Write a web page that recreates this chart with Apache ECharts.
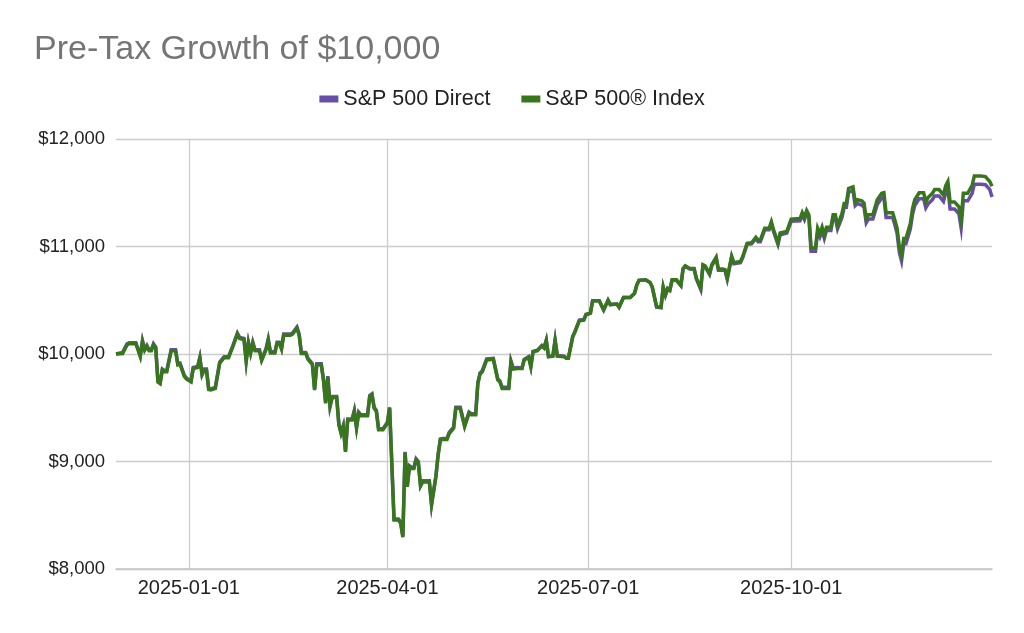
<!DOCTYPE html>
<html>
<head>
<meta charset="utf-8">
<script src="https://cdn.jsdelivr.net/npm/echarts@6/dist/echarts.min.js"></script>
<style>
html,body{margin:0;padding:0;background:#fff;}
#chart{width:1024px;height:633px;}
</style>
</head>
<body>
<div id="chart"></div>
<script>
const dates = [
"2024-11-29","2024-12-02","2024-12-03","2024-12-04","2024-12-05","2024-12-08","2024-12-10","2024-12-11","2024-12-12","2024-12-13",
"2024-12-14","2024-12-15","2024-12-16","2024-12-17","2024-12-18","2024-12-19","2024-12-20","2024-12-21","2024-12-22","2024-12-24",
"2024-12-26","2024-12-27","2024-12-28","2024-12-30","2024-12-31","2025-01-02","2025-01-03","2025-01-05","2025-01-06","2025-01-07",
"2025-01-08","2025-01-09","2025-01-10","2025-01-11","2025-01-13","2025-01-15","2025-01-17","2025-01-19","2025-01-21","2025-01-23",
"2025-01-24","2025-01-26","2025-01-27","2025-01-28","2025-01-29","2025-01-30","2025-01-31","2025-02-02","2025-02-03","2025-02-05",
"2025-02-06","2025-02-07","2025-02-09","2025-02-10","2025-02-11","2025-02-12","2025-02-13","2025-02-16","2025-02-17","2025-02-19",
"2025-02-20","2025-02-21","2025-02-23","2025-02-24","2025-02-26","2025-02-27","2025-02-28","2025-03-02","2025-03-03","2025-03-04",
"2025-03-05","2025-03-06","2025-03-07","2025-03-09","2025-03-10","2025-03-11","2025-03-12","2025-03-13","2025-03-14","2025-03-16",
"2025-03-17","2025-03-18","2025-03-19","2025-03-20","2025-03-23","2025-03-24","2025-03-25","2025-03-26","2025-03-27","2025-03-28",
"2025-03-30","2025-04-01","2025-04-02","2025-04-04","2025-04-06","2025-04-07","2025-04-08","2025-04-09","2025-04-10","2025-04-11",
"2025-04-12","2025-04-13","2025-04-14","2025-04-15","2025-04-16","2025-04-17","2025-04-20","2025-04-21","2025-04-23","2025-04-24",
"2025-04-25","2025-04-26","2025-04-28","2025-04-29","2025-05-01","2025-05-02","2025-05-04","2025-05-06","2025-05-08","2025-05-09",
"2025-05-11","2025-05-12","2025-05-13","2025-05-14","2025-05-16","2025-05-19","2025-05-21","2025-05-22","2025-05-23","2025-05-26",
"2025-05-27","2025-05-28","2025-05-30","2025-06-01","2025-06-02","2025-06-04","2025-06-05","2025-06-06","2025-06-08","2025-06-10",
"2025-06-11","2025-06-12","2025-06-13","2025-06-15","2025-06-16","2025-06-17","2025-06-20","2025-06-21","2025-06-22","2025-06-24",
"2025-06-25","2025-06-27","2025-06-29","2025-06-30","2025-07-02","2025-07-03","2025-07-06","2025-07-08","2025-07-10","2025-07-11",
"2025-07-14","2025-07-15","2025-07-17","2025-07-20","2025-07-22","2025-07-23","2025-07-24","2025-07-27","2025-07-29","2025-07-30",
"2025-08-01","2025-08-03","2025-08-04","2025-08-05","2025-08-06","2025-08-07","2025-08-08","2025-08-10","2025-08-12","2025-08-13",
"2025-08-14","2025-08-16","2025-08-18","2025-08-19","2025-08-21","2025-08-22","2025-08-23","2025-08-25","2025-08-26","2025-08-28",
"2025-08-29","2025-08-31","2025-09-01","2025-09-02","2025-09-04","2025-09-05","2025-09-08","2025-09-09","2025-09-11","2025-09-13",
"2025-09-15","2025-09-16","2025-09-17","2025-09-19","2025-09-21","2025-09-22","2025-09-23","2025-09-25","2025-09-26","2025-09-29",
"2025-10-01","2025-10-05","2025-10-06","2025-10-07","2025-10-08","2025-10-09","2025-10-10","2025-10-12","2025-10-13","2025-10-14",
"2025-10-15","2025-10-16","2025-10-17","2025-10-19","2025-10-20","2025-10-21","2025-10-22","2025-10-24","2025-10-25","2025-10-26",
"2025-10-27","2025-10-29","2025-10-30","2025-10-31","2025-11-02","2025-11-03","2025-11-04","2025-11-05","2025-11-07","2025-11-09",
"2025-11-11","2025-11-12","2025-11-13","2025-11-16","2025-11-17","2025-11-18","2025-11-19","2025-11-20","2025-11-21","2025-11-22",
"2025-11-24","2025-11-25","2025-11-26","2025-11-28","2025-11-30","2025-12-01","2025-12-02","2025-12-04","2025-12-05","2025-12-07",
"2025-12-09","2025-12-10","2025-12-11","2025-12-12","2025-12-14","2025-12-16","2025-12-17","2025-12-18","2025-12-20","2025-12-22",
"2025-12-23","2025-12-26","2025-12-28","2025-12-30","2025-12-31"
];

const sp500Index = [
10000,10005,10045,10085,10095,10095,9975,10115,10035,10070,
10030,10030,10085,10055,9740,9725,9850,9835,9835,10030,
10030,9900,9905,9790,9765,9740,9865,9875,9960,9805,
9850,9850,9670,9665,9680,9915,9965,9965,10070,10185,
10145,10135,9930,10100,10005,10100,10030,10030,9940,10040,
10130,10010,10010,10100,10100,10045,10175,10175,10185,10240,
10175,10005,10005,9950,9900,9665,9900,9900,9760,9540,
9785,9510,9595,9595,9340,9260,9325,9090,9385,9385,
9465,9310,9450,9425,9425,9605,9620,9495,9465,9295,
9295,9355,9495,8455,8455,8425,8295,9080,8765,8950,
8935,8935,9015,8990,8770,8810,8810,8595,8860,9060,
9200,9205,9205,9260,9310,9495,9495,9325,9450,9435,
9435,9725,9815,9835,9945,9950,9760,9740,9680,9680,
9925,9860,9865,9865,9945,9970,9880,10020,10030,10075,
10055,10125,9975,9980,10125,9980,9975,9960,9960,10160,
10205,10310,10315,10365,10380,10495,10495,10410,10500,10460,
10465,10435,10525,10525,10565,10640,10685,10690,10665,10625,
10440,10435,10625,10550,10610,10595,10690,10690,10640,10795,
10820,10795,10795,10705,10610,10830,10820,10750,10830,10900,
10790,10790,10785,10705,10910,10850,10860,10905,11030,11035,
11085,11060,11060,11170,11170,11230,11155,11035,11125,11140,
11255,11260,11315,11270,11335,11295,10985,10985,11170,11120,
11180,11105,11180,11180,11295,11295,11195,11305,11400,11400,
11540,11555,11415,11435,11425,11405,11260,11295,11295,11435,
11495,11500,11315,11315,11245,11170,10995,10920,11075,11075,
11215,11355,11435,11500,11500,11415,11455,11495,11530,11530,
11480,11565,11605,11415,11415,11370,11245,11495,11495,11570,
11655,11655,11650,11605,11560
];

const sp500Direct = [
10000,10015,10055,10095,10105,10105,9985,10125,10045,10080,
10040,10040,10095,10065,9750,9735,9860,9845,9845,10040,
10040,9910,9915,9800,9775,9750,9875,9885,9970,9815,
9860,9860,9680,9675,9690,9925,9975,9975,10080,10195,
10155,10145,9940,10110,10015,10110,10040,10040,9950,10050,
10140,10020,10020,10110,10110,10055,10185,10185,10195,10250,
10185,10015,10015,9960,9910,9675,9910,9910,9770,9550,
9795,9520,9605,9605,9350,9270,9335,9100,9395,9395,
9475,9320,9460,9435,9435,9615,9630,9505,9475,9305,
9305,9365,9505,8465,8465,8435,8305,9090,8775,8960,
8945,8945,9025,9000,8780,8820,8820,8605,8870,9070,
9210,9215,9215,9270,9320,9505,9505,9335,9460,9445,
9445,9735,9825,9845,9955,9960,9770,9750,9690,9690,
9935,9870,9875,9870,9950,9975,9885,10025,10035,10080,
10060,10130,9980,9985,10130,9985,9980,9965,9965,10165,
10210,10315,10320,10370,10380,10495,10495,10410,10500,10460,
10465,10435,10525,10525,10565,10640,10685,10690,10665,10625,
10435,10430,10620,10545,10605,10590,10685,10685,10635,10790,
10815,10790,10790,10700,10600,10820,10810,10740,10820,10890,
10780,10780,10775,10695,10900,10840,10850,10895,11020,11025,
11075,11045,11045,11155,11155,11215,11140,11020,11110,11125,
11235,11240,11295,11250,11315,11275,10955,10955,11140,11090,
11150,11075,11150,11150,11265,11265,11165,11270,11365,11365,
11505,11520,11380,11400,11385,11365,11220,11255,11255,11390,
11450,11455,11270,11270,11200,11120,10945,10865,11025,11025,
11165,11300,11380,11445,11445,11360,11395,11435,11470,11470,
11420,11500,11540,11350,11350,11305,11175,11425,11425,11495,
11580,11580,11575,11530,11460
];

const xTickDates = ["2025-01-01","2025-04-01","2025-07-01","2025-10-01"];
const xRange = ["2024-11-29","2025-12-31"];
const yTicks = [8000, 9000, 10000, 11000, 12000];

function toTs(s) {
  const p = s.split('-').map(Number);
  return Date.UTC(p[0], p[1] - 1, p[2]);
}
function pad(n) { return (n < 10 ? '0' : '') + n; }
function fmtDate(v) {
  const d = new Date(v);
  return d.getUTCFullYear() + '-' + pad(d.getUTCMonth() + 1) + '-' + pad(d.getUTCDate());
}

const FONT = '"Liberation Sans", Arial, Helvetica, sans-serif';
const chart = echarts.init(document.getElementById('chart'), null, {renderer: 'canvas'});
const xTicks = xTickDates.map(toTs);

chart.setOption({
  animation: false,
  backgroundColor: '#ffffff',
  title: {
    text: 'Pre-Tax Growth of $10,000',
    left: 29,
    top: 28,
    textStyle: {fontFamily: FONT, fontSize: 34, fontWeight: 'normal', color: '#757575'}
  },
  legend: {
    top: 83,
    left: 'center',
    itemGap: 31,
    itemWidth: 19,
    itemHeight: 7,
    icon: 'rect',
    textStyle: {fontFamily: FONT, fontSize: 21.5, color: '#222222'},
    data: ['S&P 500 Direct', 'S&P 500® Index']
  },
  grid: {left: 116, right: 32, top: 139, bottom: 64, containLabel: false},
  xAxis: {
    type: 'value',
    min: toTs(xRange[0]),
    max: toTs(xRange[1]),
    axisLine: {show: true, lineStyle: {color: '#c4c4c4', width: 1.5}},
    axisTick: {show: false, customValues: xTicks},
    axisLabel: {
      customValues: xTicks,
      formatter: function (v) { return fmtDate(v); },
      fontFamily: FONT, fontSize: 20, color: '#222222', margin: 9
    },
    splitLine: {show: true, lineStyle: {color: '#cccccc', width: 1.3}}
  },
  yAxis: {
    type: 'value',
    min: yTicks[0],
    max: yTicks[yTicks.length - 1],
    interval: 1000,
    axisLine: {show: false},
    axisTick: {show: false},
    axisLabel: {
      formatter: function (v) { return '$' + v.toLocaleString('en-US'); },
      fontFamily: FONT, fontSize: 18.5, color: '#222222', margin: 11
    },
    splitLine: {show: true, lineStyle: {color: '#cccccc', width: 1.3}}
  },
  series: [
    {
      name: 'S&P 500 Direct',
      type: 'line',
      showSymbol: false,
      color: '#674ea7',
      lineStyle: {width: 3.5, color: '#674ea7', join: 'miter'},
      data: dates.map((d, i) => [toTs(d), sp500Direct[i]])
    },
    {
      name: 'S&P 500® Index',
      type: 'line',
      showSymbol: false,
      color: '#38761d',
      lineStyle: {width: 3.5, color: '#38761d', join: 'miter'},
      data: dates.map((d, i) => [toTs(d), sp500Index[i]])
    }
  ]
});
</script>
</body>
</html>
